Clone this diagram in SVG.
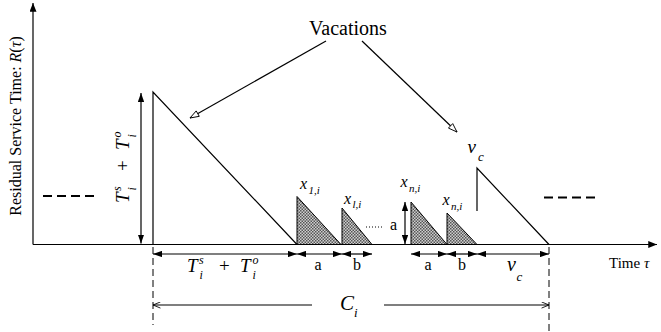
<svg xmlns="http://www.w3.org/2000/svg" width="661" height="332" viewBox="0 0 661 332">
<defs>
<style>
.ln{stroke:#000;stroke-width:1.2;fill:none}
.dim{stroke:#000;stroke-width:1.2;fill:none;marker-start:url(#ah);marker-end:url(#ah)}
.t{font-family:"Liberation Serif","Times New Roman",serif;fill:#000}
.it{font-style:italic}
.dash{stroke:#000;stroke-width:2;stroke-dasharray:9,5;fill:none}
.vd{stroke:#000;stroke-width:1;stroke-dasharray:7,4;fill:none}
.tri{fill:url(#chk);stroke:#000;stroke-width:1}
</style>
<pattern id="chk" width="3" height="3" patternUnits="userSpaceOnUse">
<rect width="3" height="3" fill="#cfcfcf"/>
<rect width="1.5" height="1.5" fill="#555"/>
<rect x="1.5" y="1.5" width="1.5" height="1.5" fill="#555"/>
</pattern>
<marker id="ah" viewBox="0 0 10 7" refX="10" refY="3.5" markerWidth="9" markerHeight="6.5" markerUnits="userSpaceOnUse" orient="auto-start-reverse">
<path d="M0,0 L10,3.5 L0,7 z" fill="#000"/>
</marker>
<marker id="ax" viewBox="0 0 10 8" refX="10" refY="4" markerWidth="9" markerHeight="7" markerUnits="userSpaceOnUse" orient="auto">
<path d="M0,0 L10,4 L0,8 z" fill="#000"/>
</marker>
<marker id="hol" viewBox="0 0 12 9" refX="11" refY="4.5" markerWidth="11" markerHeight="8" markerUnits="userSpaceOnUse" orient="auto">
<path d="M1,1 L11,4.5 L1,8 z" fill="#fff" stroke="#000" stroke-width="1"/>
</marker>
<marker id="chev" viewBox="0 0 10 8" refX="9.5" refY="4" markerWidth="9" markerHeight="7" markerUnits="userSpaceOnUse" orient="auto-start-reverse">
<path d="M1,0.5 L9.5,4 L1,7.5" fill="none" stroke="#000" stroke-width="1"/>
</marker>
</defs>
<rect width="661" height="332" fill="#fff"/>

<g id="axes">
<path class="ln" d="M33,244.5 L657,244.5" marker-end="url(#ax)"/>
<path class="ln" d="M33,244.5 L33,3" marker-end="url(#ax)"/>
<text class="t" font-size="16" text-anchor="middle" transform="translate(21,126) rotate(-90)">Residual Service Time: <tspan font-style="italic">R</tspan>(<tspan font-style="italic">τ</tspan>)</text>
<text class="t" x="609" y="268" font-size="15">Time <tspan font-style="italic">τ</tspan></text>
</g>

<g id="continuation">
<path class="dash" d="M43,196 L94,196"/>
<path class="dash" d="M544,197.5 L595,197.5"/>
</g>

<g id="service">
<polyline class="ln" points="153,244.5 153,92 297,244.5"/>
</g>

<g id="polls">
<polygon class="tri" points="297,196.5 297,244.5 341,244.5"/>
<polygon class="tri" points="342,208 342,244.5 372,244.5"/>
<polygon class="tri" points="411,202 411,244.5 447,244.5"/>
<polygon class="tri" points="447,213 447,244.5 477,244.5"/>
<path d="M366,227 L384,227" stroke="#000" stroke-width="1" stroke-dasharray="1,2"/>
<text class="t it" x="300" y="189" font-size="16">x</text>
<text class="t it" x="308.5" y="194" font-size="11">1,i</text>
<text class="t it" x="344" y="204" font-size="16">x</text>
<text class="t it" x="352.5" y="208" font-size="11">l,i</text>
<text class="t it" x="400.5" y="187" font-size="16">x</text>
<text class="t it" x="409" y="192" font-size="11">n,i</text>
<text class="t it" x="442.5" y="205" font-size="16">x</text>
<text class="t it" x="451" y="210" font-size="11">n,i</text>
<text class="t" x="390" y="230" font-size="16">a</text>
</g>

<g id="vacation">
<polyline class="ln" points="477,211 477,168 549,244.5"/>
<text class="t it" x="467.5" y="153" font-size="19">v</text>
<text class="t it" x="478" y="161" font-size="13">c</text>
</g>

<g id="vacations-label">
<text class="t" x="348" y="35" font-size="20" text-anchor="middle">Vacations</text>
</g>

<g id="guides">
<path class="vd" d="M153,247 L153,325"/>
<path class="vd" d="M549,247 L549,332"/>
</g>

<g id="connectors">
<path class="ln" d="M326,41 L190,118" marker-end="url(#hol)"/>
<path class="ln" d="M362,41 L457,132" marker-end="url(#hol)"/>
<path class="dim" d="M141,93 L141,243.5"/>
<path class="dim" d="M405,202 L405,244"/>
<path class="dim" d="M153,254 L297,254"/>
<path class="dim" d="M297,254 L342,254"/>
<path class="dim" d="M342,254 L372,254"/>
<path class="dim" d="M411,254 L447,254"/>
<path class="dim" d="M447,254 L477,254"/>
<path class="dim" d="M477,254 L549,254"/>
<path class="ln" d="M153,305 L312,305" marker-start="url(#chev)"/>
<path class="ln" d="M384,305 L549,305" marker-end="url(#chev)"/>
</g>

<g id="dim-labels">
<g id="ts-h">
<text class="t it" x="187" y="272" font-size="19">T</text>
<text class="t it" x="199" y="264" font-size="12">s</text>
<text class="t it" x="199.5" y="279" font-size="12">i</text>
<text class="t" x="219" y="272" font-size="19">+</text>
<text class="t it" x="240" y="272" font-size="19">T</text>
<text class="t it" x="252.5" y="264" font-size="12">o</text>
<text class="t it" x="252.5" y="279" font-size="12">i</text>
</g>
<g id="ts-v" transform="translate(125,166) rotate(-90) translate(-224,-268)">
<text class="t it" x="187" y="272" font-size="19">T</text>
<text class="t it" x="199" y="264" font-size="12">s</text>
<text class="t it" x="199.5" y="279" font-size="12">i</text>
<text class="t" x="219" y="272" font-size="19">+</text>
<text class="t it" x="240" y="272" font-size="19">T</text>
<text class="t it" x="252.5" y="264" font-size="12">o</text>
<text class="t it" x="252.5" y="279" font-size="12">i</text>
</g>
<text class="t" x="318" y="270" font-size="16" text-anchor="middle">a</text>
<text class="t" x="357" y="270" font-size="16" text-anchor="middle">b</text>
<text class="t" x="428" y="270" font-size="16" text-anchor="middle">a</text>
<text class="t" x="462" y="270" font-size="16" text-anchor="middle">b</text>
<text class="t it" x="507" y="271" font-size="20">v</text>
<text class="t it" x="516.5" y="281" font-size="13">c</text>
<text class="t it" x="340" y="310" font-size="21">C</text>
<text class="t it" x="354" y="317" font-size="13">i</text>
</g>
</svg>
